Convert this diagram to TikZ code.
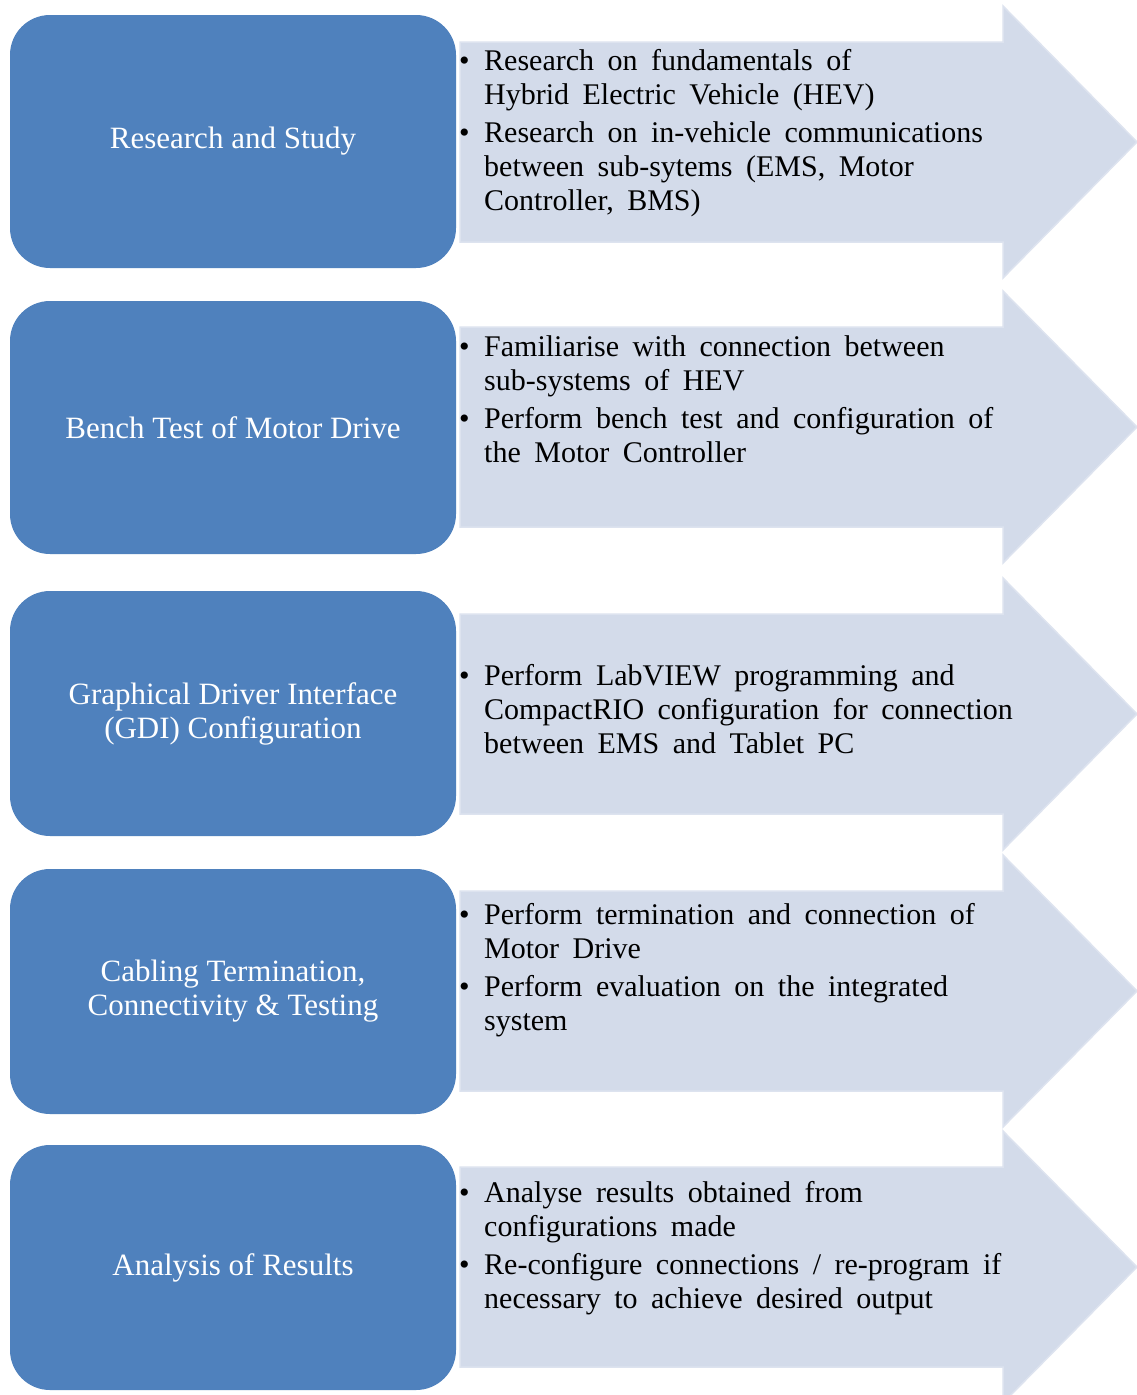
\documentclass[tikz,border=0pt]{standalone}
\usepackage{fontspec}
\setmainfont{Liberation Serif}
\definecolor{boxblue}{HTML}{4F81BD}
\definecolor{arrowfill}{HTML}{D3DBEA}
\definecolor{arrowedge}{HTML}{DDE3EF}
\tikzset{
  stagebox/.style={fill=boxblue, draw=none, rounded corners=40pt, minimum width=446pt,
    inner sep=0pt, text=white, font=\fontsize{31}{34}\selectfont, align=center},
  stagearrow/.style={fill=arrowfill, draw=arrowedge, line width=1.5pt, line join=miter},
  bullets/.style={anchor=base west, inner sep=0pt,
    font=\fontsize{30}{34}\selectfont, text=black}
}
\newcommand\bul{\makebox[25pt][l]{\textbullet}}
\newcommand\wsp{\spaceskip=13.5pt\relax}
\newcommand\stagearrowpath[1]{%
  \filldraw[stagearrow] (460,#1-100) -- (1003,#1-100) -- (1003,#1-136) -- (1137,#1)
    -- (1003,#1+136) -- (1003,#1+100) -- (460,#1+100) -- cycle;}
\begin{document}
\begin{tikzpicture}[x=1pt, y=-1pt]
\clip (0,0) rectangle (1137,1395);
\fill[white] (0,0) rectangle (1137,1395);

% arrows
\stagearrowpath{142}
\stagearrowpath{427}
\stagearrowpath{714}
\stagearrowpath{991}
\stagearrowpath{1267}

% boxes
\node[stagebox, minimum height=253pt] (b1) at (233,141.5) {Research and Study};
\node[stagebox, minimum height=253pt] (b2) at (233,427.5) {Bench Test of Motor Drive};
\node[stagebox, minimum height=245pt] (b3) at (233,713.5) {Graphical Driver Interface\\(GDI) Configuration};
\node[stagebox, minimum height=245pt] (b4) at (233,991.5) {Cabling Termination,\\Connectivity \& Testing};
\node[stagebox, minimum height=245pt] (b5) at (233,1267.5) {Analysis of Results};

% texts
\node[bullets] (t1) at (459,70) {\wsp\begin{tabular}[t]{@{}l@{}}
\bul Research on fundamentals of\\
\hspace{25pt}Hybrid Electric Vehicle (HEV)\\[4pt]
\bul Research on in-vehicle communications\\
\hspace{25pt}between sub-sytems (EMS, Motor\\
\hspace{25pt}Controller, BMS)
\end{tabular}};

\node[bullets] (t2) at (459,356) {\wsp\begin{tabular}[t]{@{}l@{}}
\bul Familiarise with connection between\\
\hspace{25pt}sub-systems of HEV\\[4pt]
\bul Perform bench test and configuration of\\
\hspace{25pt}the Motor Controller
\end{tabular}};

\node[bullets] (t3) at (459,685) {\wsp\begin{tabular}[t]{@{}l@{}}
\bul Perform LabVIEW programming and\\
\hspace{25pt}CompactRIO configuration for connection\\
\hspace{25pt}between EMS and Tablet PC
\end{tabular}};

\node[bullets] (t4) at (459,924) {\wsp\begin{tabular}[t]{@{}l@{}}
\bul Perform termination and connection of\\
\hspace{25pt}Motor Drive\\[4pt]
\bul Perform evaluation on the integrated\\
\hspace{25pt}system
\end{tabular}};

\node[bullets] (t5) at (459,1202) {\wsp\begin{tabular}[t]{@{}l@{}}
\bul Analyse results obtained from\\
\hspace{25pt}configurations made\\[4pt]
\bul Re-configure connections / re-program if\\
\hspace{25pt}necessary to achieve desired output
\end{tabular}};
\end{tikzpicture}
\end{document}
